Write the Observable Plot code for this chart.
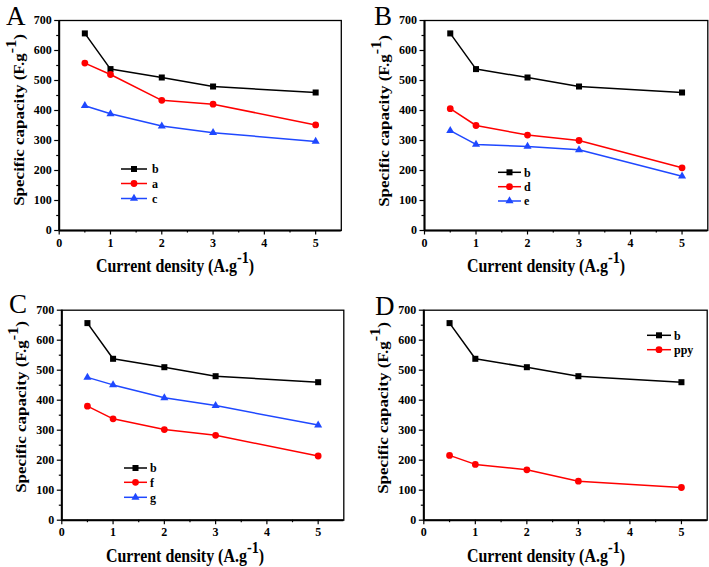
<!DOCTYPE html>
<html>
<head>
<meta charset="utf-8">
<script src="https://cdn.jsdelivr.net/npm/d3@7"></script>
<script src="https://cdn.jsdelivr.net/npm/@observablehq/plot@0.6"></script>
<style>
  body { margin: 0; background: #fff; }
  #wrap { position: relative; width: 709px; height: 567px; overflow: hidden; }
  .panel { position: absolute; }
  svg { overflow: visible; }
</style>
</head>
<body>
<div id="wrap"></div>
<script>
// ---- data ----
const currentDensity = [0.5, 1, 2, 3, 5];
const sB   = [657, 538, 510, 480, 460];
const sA   = [558, 520, 434, 421, 352];
const sC   = [416, 389, 348, 326, 297];
const sD   = [406, 350, 318, 300, 209];
const sE   = [333, 287, 280, 269, 181];
const sF   = [380, 338, 302, 283, 214];
const sG   = [476, 451, 408, 382, 317];
const sPpy = [216, 186, 168, 130, 109];
const xMajor = [0, 1, 2, 3, 4, 5];
const xMinor = [0.5, 1.5, 2.5, 3.5, 4.5];
const yMajor = [0, 100, 200, 300, 400, 500, 600, 700];
const yMinor = [50, 150, 250, 350, 450, 550, 650];

const BLACK = "#000000", RED = "#ff0000", BLUE = "#1f48ff";
const FONT = "'Liberation Serif', 'Times New Roman', serif";

const panels = [
  { letter: "A", left: 0, top: 0, w: 354, h: 283,
    m: {l: 58.7, r: 13.2, t: 20, b: 53},
    series: [["b", sB, BLACK, "square"], ["a", sA, RED, "circle"], ["c", sC, BLUE, "triangle"]],
    letterPos: [6, 25], xTitle: [175, 272], yTitle: [24, 120],
    legend: {x0: 121, x1: 147, tx: 152, ys: [169, 183.5, 198.5]} },
  { letter: "B", left: 354, top: 0, w: 355, h: 283,
    m: {l: 70, r: 1.7, t: 20, b: 53},
    series: [["b", sB, BLACK, "square"], ["d", sD, RED, "circle"], ["e", sE, BLUE, "triangle"]],
    letterPos: [20, 25], xTitle: [192, 272], yTitle: [35, 121],
    legend: {x0: 144, x1: 167, tx: 170, ys: [172.3, 186.7, 201]} },
  { letter: "C", left: 0, top: 283, w: 354, h: 284,
    m: {l: 61.3, r: 10.7, t: 26.7, b: 47.3},
    series: [["b", sB, BLACK, "square"], ["f", sF, RED, "circle"], ["g", sG, BLUE, "triangle"]],
    letterPos: [9, 30], xTitle: [185, 279], yTitle: [26, 124],
    legend: {x0: 124, x1: 147, tx: 150, ys: [185, 199.3, 214.3]} },
  { letter: "D", left: 354, top: 283, w: 355, h: 284,
    m: {l: 69.3, r: 2.3, t: 26.7, b: 47.3},
    series: [["b", sB, BLACK, "square"], ["ppy", sPpy, RED, "circle"]],
    letterPos: [21, 32], xTitle: [192, 279], yTitle: [34, 125],
    legend: {x0: 293, x1: 317, tx: 320, ys: [52.3, 66.7]} }
];

const symR = {square: 3.4, circle: 3.4, triangle: 3.0};
const fmt = d => String(d);

function styleText(sel, size, weight) {
  return sel.style("font-family", FONT).style("font-size", size + "px").style("font-weight", weight).style("fill", "#000");
}

function build(p) {
  const marks = [];
  marks.push(Plot.axisX({ticks: xMinor, tickSize: 2.5, tickFormat: () => "", label: null, strokeWidth: 1.2}));
  marks.push(Plot.axisX({ticks: xMajor, tickSize: 4.5, tickPadding: 3, tickFormat: fmt, label: null, strokeWidth: 1.2, fontSize: 12, fontWeight: "bold"}));
  marks.push(Plot.axisY({ticks: yMinor, tickSize: 2.5, tickFormat: () => "", label: null, strokeWidth: 1.2}));
  marks.push(Plot.axisY({ticks: yMajor, tickSize: 4.5, tickPadding: 3, tickFormat: fmt, label: null, strokeWidth: 1.2, fontSize: 12, fontWeight: "bold"}));
  marks.push(Plot.frame({stroke: "#000", strokeWidth: 1.3}));
  marks.push(Plot.ruleY([0], {stroke: "#000", strokeWidth: 2}));
  marks.push(Plot.ruleX([0], {stroke: "#000", strokeWidth: 2}));
  for (const [name, vals, color, sym] of p.series) {
    const data = currentDensity.map((x, i) => ({x, y: vals[i]}));
    marks.push(Plot.line(data, {x: "x", y: "y", stroke: color, strokeWidth: 1.5}));
    marks.push(Plot.dot(data, {x: "x", y: "y", symbol: () => sym, fill: color, stroke: "none", r: symR[sym]}));
  }
  const svg = Plot.plot({
    width: p.w, height: p.h,
    marginLeft: p.m.l, marginRight: p.m.r, marginTop: p.m.t, marginBottom: p.m.b,
    x: {domain: [0, 5.5], axis: null},
    y: {domain: [0, 700], axis: null},
    symbol: {type: "identity"},
    style: {fontFamily: FONT, fontWeight: "bold", fontSize: "12px", color: "#000", background: "transparent"},
    marks
  });
  const s = d3.select(svg);
  s.selectAll("text").style("font-family", FONT).style("font-weight", "bold").style("font-size", "12px");
  // panel letter
  styleText(s.append("text").attr("x", p.letterPos[0]).attr("y", p.letterPos[1]).attr("text-anchor", "start"), 27, "normal").text(p.letter);
  // x title (slightly condensed as in the reference)
  const xg = s.append("g").attr("transform", `translate(${p.xTitle[0]},${p.xTitle[1]}) scale(0.84,1)`);
  const xt = styleText(xg.append("text").attr("text-anchor", "middle"), 19, "bold");
  xt.append("tspan").text("Current density (A.g");
  xt.append("tspan").attr("dy", -9).style("font-size", "17px").text("-1");
  xt.append("tspan").attr("dy", 9).text(")");
  // y title
  const yg = s.append("g").attr("transform", `translate(${p.yTitle[0]},${p.yTitle[1]}) scale(0.88,1) rotate(-90)`);
  const yt = styleText(yg.append("text").attr("text-anchor", "middle"), 17, "bold");
  yt.append("tspan").text("Specific capacity (F.g");
  yt.append("tspan").attr("dy", -9).style("font-size", "16px").text("-1");
  yt.append("tspan").attr("dy", 9).text(")");
  // legend
  const L = p.legend;
  p.series.forEach(([name, vals, color, sym], i) => {
    const y = L.ys[i];
    s.append("line").attr("x1", L.x0).attr("x2", L.x1).attr("y1", y).attr("y2", y)
      .attr("stroke", color).attr("stroke-width", 1.5);
    const symbol = sym === "square" ? d3.symbolSquare : sym === "circle" ? d3.symbolCircle : d3.symbolTriangle;
    s.append("path").attr("transform", `translate(${(L.x0 + L.x1) / 2},${y})`)
      .attr("d", d3.symbol(symbol, Math.PI * symR[sym] * symR[sym])()).attr("fill", color);
    styleText(s.append("text").attr("x", L.tx).attr("y", y).attr("dy", "0.35em").attr("text-anchor", "start"), 12, "bold").text(name);
  });
  const div = document.createElement("div");
  div.className = "panel";
  div.style.left = p.left + "px";
  div.style.top = p.top + "px";
  div.appendChild(svg);
  document.getElementById("wrap").appendChild(div);
}
panels.forEach(build);
</script>
</body>
</html>
